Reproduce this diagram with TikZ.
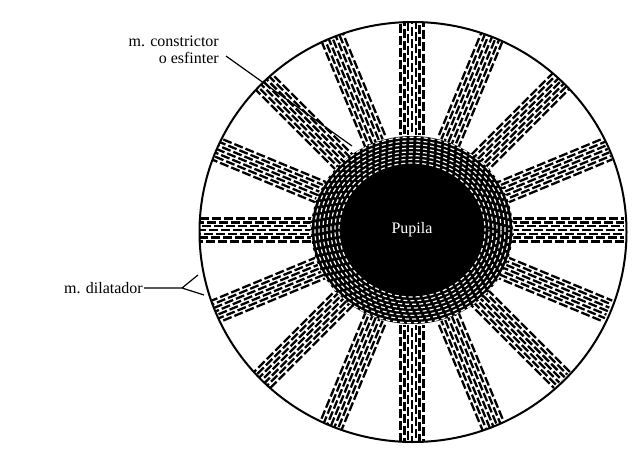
\documentclass[tikz,border=0pt]{standalone}
\usepackage{fontspec}
\setmainfont{Liberation Serif}
\usetikzlibrary{calc}
\begin{document}
\begin{tikzpicture}[x=1pt,y=-1pt,
  lbl/.style={font=\fontsize{16}{17}\selectfont, align=right, inner sep=1pt},
  fib/.style={line width=2.3pt, dash pattern=on 9pt off 3pt},
  ring/.style={white, line width=1.2pt, dash pattern=on 4pt off 3pt}]
\useasboundingbox (0,0) rectangle (640,450);
\coordinate (c) at (412,230);
\coordinate (oc) at (413,232);
% dilator bands
\foreach \a [count=\i] in {0,22.5,...,337.5}{
  \foreach \k in {-3,-2,...,3}{
    \pgfmathsetmacro{\ph}{mod(\i*3+\k*5+30,12)}
    \draw[fib, dash phase=\ph pt] ($(c)+(\a:95)+(\a+90:\k*3.8)$) -- ($(c)+(\a:212)+(\a+90:\k*3.8)$);
  }
}
% sphincter ring
\fill[black] (c) ellipse [x radius=101, y radius=94];
\foreach \r [count=\j] in {0,4,...,28}{
  \pgfmathsetmacro{\ph}{mod(\j*2.7,7)}
  \draw[ring, dash phase=\ph pt] (c) ellipse [x radius=73+\r, y radius=67+\r*0.92];
}
\fill[black] (c) ellipse [x radius=71, y radius=65];
\node[white, font=\fontsize{16}{17}\selectfont] (p) at (c) {Pupila};
% outer cover and border
\begin{scope}[even odd rule]
\fill[white] (0,0) rectangle (640,450) (oc) ellipse [x radius=213.5, y radius=210];
\end{scope}
\draw[line width=2pt] (oc) ellipse [x radius=213.5, y radius=210];
\node[lbl, anchor=east] (con) at (220,50) {m. constrictor\\o esfinter};
\coordinate (cs) at (226,56);
\coordinate (ce) at (352,146);
\draw[line width=1.2pt] (cs) -- (ce);
\node[lbl, anchor=east] (dil) at (144,288) {m. dilatador};
\coordinate (d0) at (182,288);
\coordinate (d1) at (198,275);
\coordinate (d2) at (204,295);
\draw[line width=1.2pt] (dil.east) -- (d0) -- (d1) (d0) -- (d2);
\end{tikzpicture}
\end{document}
